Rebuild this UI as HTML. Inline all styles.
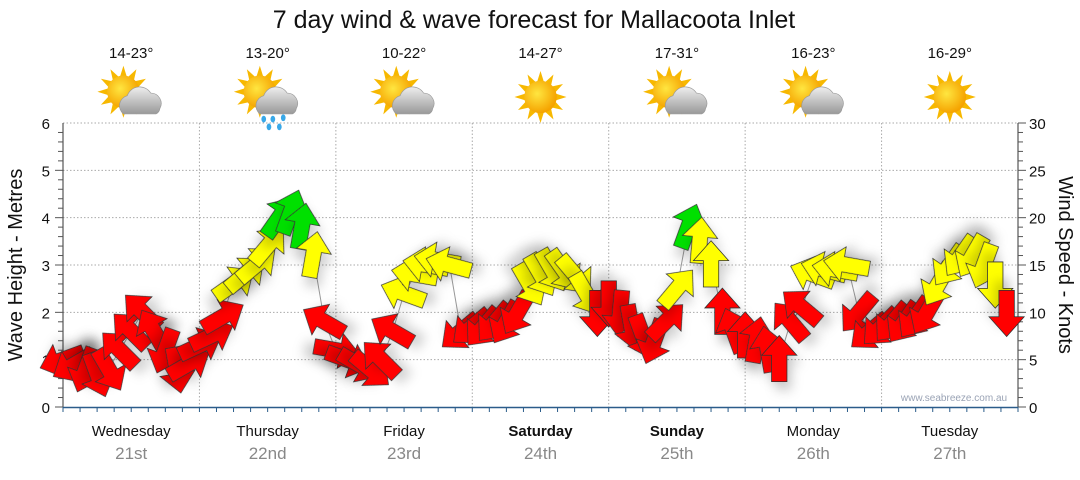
<!DOCTYPE html>
<html><head><meta charset="utf-8"><style>
body{margin:0;background:#fff;width:1080px;height:475px;overflow:hidden;font-family:"Liberation Sans",sans-serif}
</style></head><body>
<svg id="chart" width="1080" height="475" xmlns="http://www.w3.org/2000/svg" font-family="Liberation Sans, sans-serif">
<defs>
<filter id="sh" x="-50%" y="-50%" width="200%" height="200%"><feDropShadow dx="4" dy="8" stdDeviation="5" flood-color="#000" flood-opacity="0.18"/></filter>
<radialGradient id="sun" cx="0.4" cy="0.4" r="0.6"><stop offset="0" stop-color="#ffe640"/><stop offset="1" stop-color="#f5a300"/></radialGradient>
<linearGradient id="cloud" x1="0" y1="0" x2="0" y2="1"><stop offset="0" stop-color="#eee"/><stop offset="1" stop-color="#999"/></linearGradient>
</defs>
<text x="534" y="28" font-size="25" text-anchor="middle" fill="#111">7 day wind &amp; wave forecast for Mallacoota Inlet</text>
<g id="hdr"></g>
<g id="grid"></g>
<g id="axes"></g>
<g id="marks"></g>
<text transform="translate(22,265) rotate(-90)" font-size="20" text-anchor="middle" fill="#111">Wave Height - Metres</text>
<text transform="translate(1059,265) rotate(90)" font-size="20" text-anchor="middle" fill="#111">Wind Speed - Knots</text>
<text x="954" y="401" font-size="10" text-anchor="middle" fill="#9aa3b5">www.seabreeze.com.au</text>
</svg>
<script>
const days=["Wednesday","Thursday","Friday","Saturday","Sunday","Monday","Tuesday"];
const dates=["21st","22nd","23rd","24th","25th","26th","27th"];
const temps=["14-23°","13-20°","10-22°","14-27°","17-31°","16-23°","16-29°"];
const icons=["cloud","rain","cloud","sun","cloud","cloud","sun"];
const hours=[0,2,4,6,8,10,12,14,16,18,20,22,24,26,28,30,32,34,36,38,40,42,44,46,48,50,52,54,56,58,60,62,64,66,68,70,72,74,76,78,80,82,84,86,88,90,92,94,96,98,100,102,104,106,108,110,112,114,116,118,120,122,124,126,128,130,132,134,136,138,140,142,144,146,148,150,152,154,156,158,160,162,164,166];
const speeds=[5,4.5,4,3.5,4,6,8,10,8,6,4,4.5, 6.5,7.5,9.5,13,14,15,17,20,20.5,19,16,9, 6,5,4.5,4,5,8,12,14,15,15.5,15,8, 8.5,8.5,9,9,10,13,14,14.5,14.5,14,12,10, 11,10,8.5,7.5,7,9,12.5,19,17.5,15,10,8, 7.5,7,6,5,9,10.5,14,14.5,14.5,15,10,8, 8.5,9,9,9.5,10,13,15,16,16,15,13,10];
const dirs=[250,240,200,160,150,315,315,315,330,200,170,60, 65,65,60,55,50,50,40,35,20,10,10,300, 100,110,120,130,315,300,290,280,280,280,285,230, 230,220,220,210,210,150,150,150,145,140,150,180, 180,185,170,160,200,45,40,20,5,0,0,340, 0,10,350,0,320,310,290,285,280,280,220,230, 225,220,215,215,210,210,215,215,210,200,180,180];
const X0=63,X1=1018,Y0=407,DAYW=(X1-X0)/7;
const xS=h=>X0+h*DAYW/24, yW=k=>Y0-k*(Y0-123)/30, yM=m=>Y0-m*(Y0-123)/6;
const NS="http://www.w3.org/2000/svg";
function mk(p,tag,a){const e=document.createElementNS(NS,tag);for(const k in a)e.setAttribute(k,a[k]);p.appendChild(e);return e;}
const hdr=document.getElementById('hdr'),grid=document.getElementById('grid'),axes=document.getElementById('axes'),marks=document.getElementById('marks');
days.forEach((d,i)=>{
 const cx=X0+DAYW*(i+0.5);
 const t=mk(hdr,'text',{x:cx,y:58,'font-size':15,'text-anchor':'middle',fill:'#111'});t.textContent=temps[i];
 
 
 const g=mk(hdr,'g',{transform:`translate(${cx},97) scale(1.3)`});
 
 
 const sx=icons[i]=="sun"?0:-6, sy=icons[i]=="sun"?0:-4;
 for(let a=0;a<360;a+=30){mk(g,'polygon',{points:`${sx-2.5},${sy-12} ${sx},${sy-20} ${sx+2.5},${sy-12}`,fill:'#f7b800',transform:`rotate(${a} ${sx} ${sy})`});}
 mk(g,'circle',{cx:sx,cy:sy,r:12.5,fill:'url(#sun)'});
 if(icons[i]!="sun"){
  mk(g,'path',{d:'M-6,13 a8,8 0 0 1 3,-14 a10,10 0 0 1 18,-2 a8,8 0 0 1 7,12 a5,5 0 0 1 -3,4 z',fill:'url(#cloud)',stroke:'#999','stroke-width':0.5});
  if(icons[i]=="rain"){[[-3,17],[4,17],[12,16],[1,23],[9,23]].forEach(p=>mk(g,'ellipse',{cx:p[0],cy:p[1],rx:1.8,ry:2.6,fill:'#38a8e8'}));}
 }
 const dl=mk(axes,'text',{x:cx,y:436,'font-size':15,'text-anchor':'middle',fill:'#111','font-weight':(i==3||i==4)?'bold':'normal'});dl.textContent=d;
 
 
 const dt=mk(axes,'text',{x:cx,y:459,'font-size':17,'text-anchor':'middle',fill:'#888'});dt.textContent=dates[i];
 
 
 if(i>0) mk(grid,'line',{x1:X0+DAYW*i,x2:X0+DAYW*i,y1:123,y2:Y0,stroke:'#aaa','stroke-dasharray':'1.5,2'});
});
for(let m=1;m<=6;m++) mk(grid,'line',{x1:X0,x2:X1,y1:yM(m),y2:yM(m),stroke:'#aaa','stroke-dasharray':'1.5,2'});
mk(axes,'line',{x1:X0,x2:X0,y1:123,y2:Y0,stroke:'#333'});
mk(axes,'line',{x1:X1,x2:X1,y1:123,y2:Y0,stroke:'#333'});
mk(axes,'line',{x1:X0,x2:X1,y1:Y0+0.5,y2:Y0+0.5,stroke:'#2b5c8a','stroke-width':1.5});
for(let m=0;m<=6;m++){const t=mk(axes,'text',{x:50,y:yM(m)+6,'font-size':15,'text-anchor':'end',fill:'#111'});t.textContent=m;
 
 }
for(let k=0;k<=30;k++){mk(axes,'line',{x1:X1,x2:X1+(k%5?5:8),y1:yW(k),y2:yW(k),stroke:'#555'});
 if(k%5==0){const t=mk(axes,'text',{x:1029,y:yW(k)+6,'font-size':15,fill:'#111'});t.textContent=k;
 
 }}
for(let m=0;m<30;m++) mk(axes,'line',{x1:X0-(m%5?5:8),x2:X0,y1:yM(m/5),y2:yM(m/5),stroke:'#555'});
for(let h=0;h<=168;h+=3) mk(axes,'line',{x1:xS(h),x2:xS(h),y1:Y0,y2:Y0+5,stroke:'#2b5c8a'});
const pts=hours.map((h,i)=>xS(h)+','+yW(speeds[i])).join(' ');
const ln=mk(marks,'polyline',{points:pts,fill:'none',stroke:'#999','stroke-width':1});


hours.forEach((h,i)=>{
 const s=speeds[i],c=s>=18.5?'#00e000':s>=12?'#ffff00':'#ff0000';
 const a=mk(marks,'polygon',{points:'0,-22 16,-4 7,-4 7,20 -7,20 -7,-4 -16,-4',fill:c,stroke:'#333','stroke-width':0.7,filter:'url(#sh)',transform:`translate(${xS(h)},${yW(s)}) rotate(${dirs[i]}) scale(1.1)`});
 
 
});
</script>
</body></html>
